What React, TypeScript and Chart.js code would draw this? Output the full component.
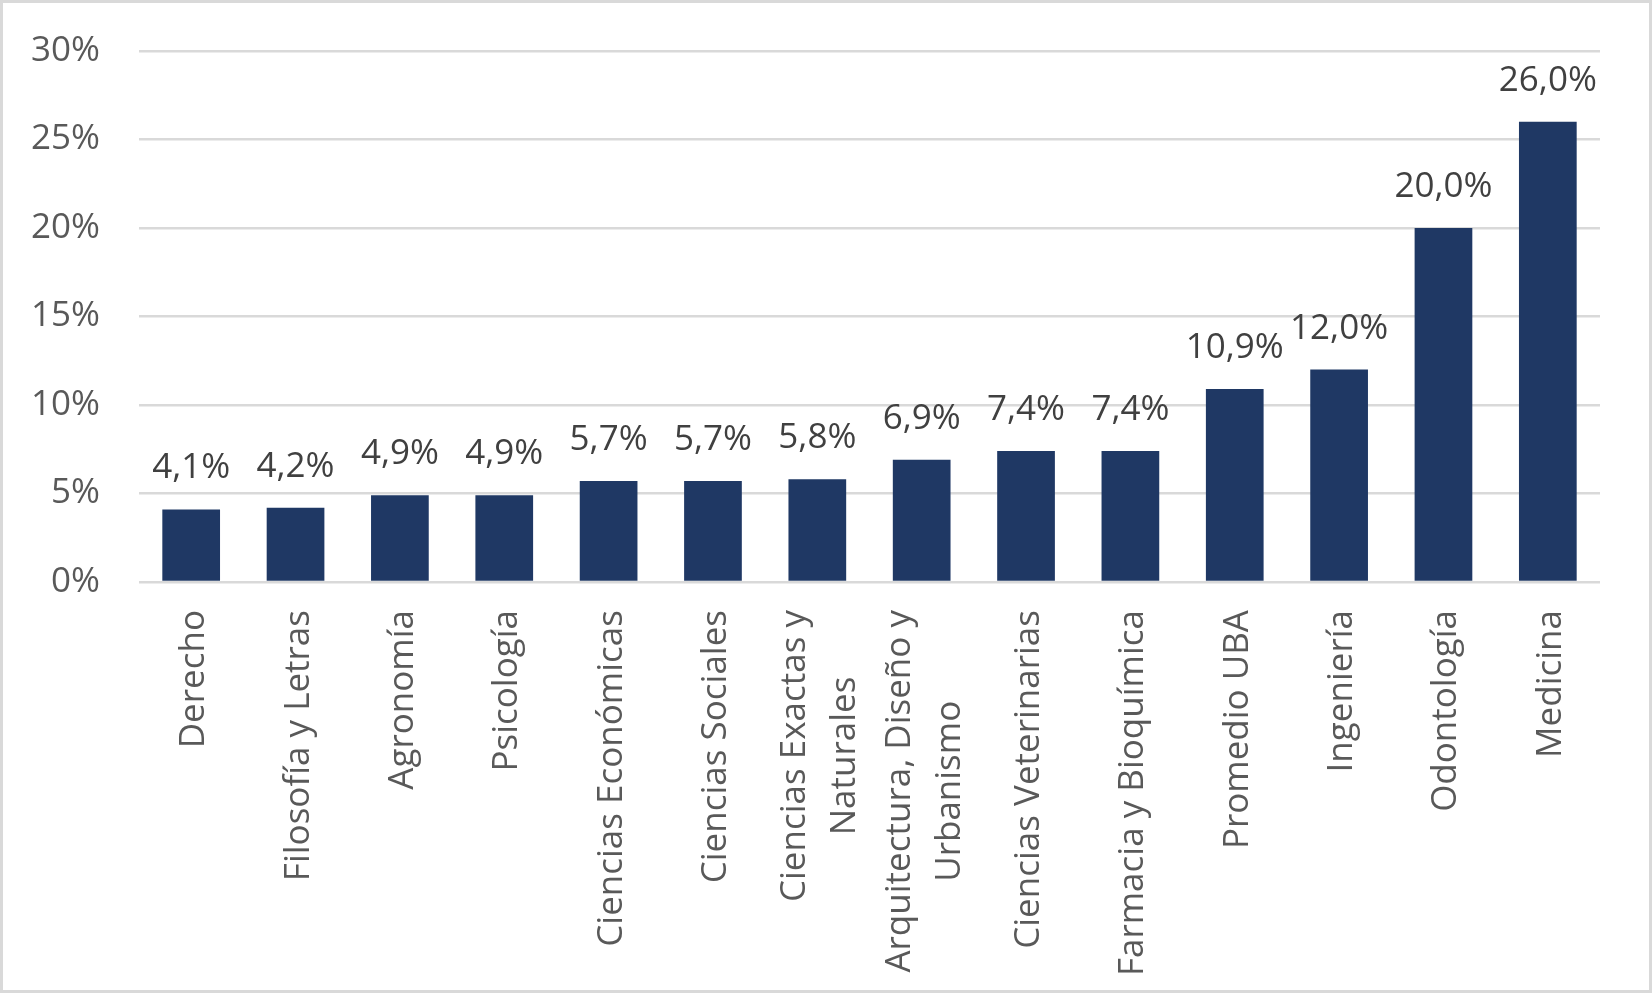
import React, { useEffect, useRef } from "react";
import { Chart, registerables, Plugin } from "chart.js";

Chart.register(...registerables);

// Facultades y su valor (%)
const categories: (string | string[])[] = [
    "Derecho",
    "Filosofía y Letras",
    "Agronomía",
    "Psicología",
    "Ciencias Económicas",
    "Ciencias Sociales",
    ["Ciencias Exactas y", "Naturales"],
    ["Arquitectura, Diseño y", "Urbanismo"],
    "Ciencias Veterinarias",
    "Farmacia y Bioquímica",
    "Promedio UBA",
    "Ingeniería",
    "Odontología",
    "Medicina",
];
const values = [4.1, 4.2, 4.9, 4.9, 5.7, 5.7, 5.8, 6.9, 7.4, 7.4, 10.9, 12.0, 20.0, 26.0];
const yTicks = [0, 5, 10, 15, 20, 25, 30];

const FONT = "'Open Sans', 'Noto Sans', sans-serif";
const fmt = (v: number) => v.toFixed(1).replace(".", ",") + "%";

// etiquetas encima de cada barra
const valueLabels: Plugin<"bar"> = {
    id: "valueLabels",
    afterDatasetsDraw(chart) {
        const ctx = chart.ctx;
        const meta = chart.getDatasetMeta(0);
        ctx.save();
        ctx.font = `35px ${FONT}`;
        ctx.fillStyle = "#404040";
        ctx.textAlign = "center";
        ctx.textBaseline = "alphabetic";
        meta.data.forEach((bar: any, i) => {
            ctx.fillText(fmt(values[i]), bar.x, bar.y - 31);
        });
        ctx.restore();
    },
};

// etiquetas del eje x, giradas y centradas por línea
const xLabels: Plugin<"bar"> = {
    id: "xLabels",
    afterDraw(chart) {
        const ctx = chart.ctx;
        const xScale = chart.scales.x;
        const top = xScale.top + 28;
        ctx.save();
        ctx.font = `35px ${FONT}`;
        ctx.fillStyle = "#595959";
        ctx.textAlign = "center";
        ctx.textBaseline = "alphabetic";
        categories.forEach((label, i) => {
            const lines = Array.isArray(label) ? label : [label];
            const maxW = Math.max(...lines.map((l) => ctx.measureText(l).width));
            const cx = xScale.getPixelForValue(i);
            lines.forEach((line, j) => {
                const b = cx + 13 + (j - (lines.length - 1) / 2) * 50;
                ctx.save();
                ctx.translate(b, top);
                ctx.rotate(-Math.PI / 2);
                ctx.fillText(line, -maxW / 2, 0);
                ctx.restore();
            });
        });
        ctx.restore();
    },
};

const App = () => {
    const chartRef = useRef<HTMLCanvasElement | null>(null);

    useEffect(() => {
        document.body.style.margin = "0";
        if (!chartRef.current) return;
        const ctx = chartRef.current.getContext("2d");
        if (!ctx) return;

        const chart = new Chart(ctx, {
            type: "bar",
            data: {
                labels: categories,
                datasets: [
                    {
                        data: values,
                        backgroundColor: "#1F3864",
                        barPercentage: 0.553,
                        categoryPercentage: 1,
                    },
                ],
            },
            options: {
                responsive: true,
                maintainAspectRatio: false,
                animation: false,
                layout: { padding: { top: 10, right: 49, left: 0, bottom: 0 } },
                plugins: {
                    legend: { display: false },
                    tooltip: { enabled: false },
                },
                scales: {
                    x: {
                        grid: { display: false },
                        border: { display: false },
                        ticks: { display: false },
                        afterFit: (scale: any) => {
                            scale.height = 408;
                        },
                    },
                    y: {
                        min: yTicks[0],
                        max: yTicks[yTicks.length - 1],
                        afterBuildTicks: (scale: any) => {
                            scale.ticks = yTicks.map((v) => ({ value: v }));
                        },
                        grid: {
                            color: "#d9d9d9",
                            lineWidth: 2.5,
                            drawTicks: true,
                            tickLength: 12,
                            tickColor: "rgba(0,0,0,0)",
                        },
                        border: { display: false },
                        ticks: {
                            padding: 27,
                            color: "#595959",
                            font: { family: FONT, size: 35 },
                            callback: (v: any) => `${v}%`,
                        },
                        afterFit: (scale: any) => {
                            scale.width = 136;
                        },
                    },
                },
            },
            plugins: [valueLabels, xLabels],
        });

        return () => {
            chart.destroy();
        };
    }, []);

    return (
        <div
            style={{
                width: 1652,
                height: 993,
                border: "3px solid #d9d9d9",
                boxSizing: "border-box",
                background: "#fff",
                position: "relative",
            }}
        >
            <canvas ref={chartRef} />
        </div>
    );
};

export default App;
